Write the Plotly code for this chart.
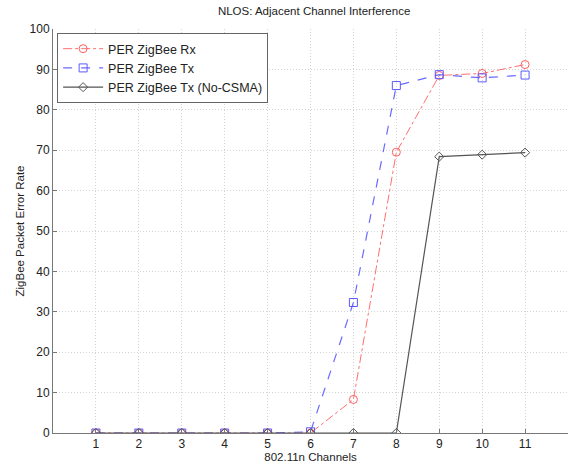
import plotly.graph_objects as go

channels = [1, 2, 3, 4, 5, 6, 7, 8, 9, 10, 11]
per_rx = [0, 0, 0, 0, 0, 0, 8.3, 69.5, 88.5, 89.0, 91.2]
per_tx = [0, 0, 0, 0, 0, 0.3, 32.3, 86.0, 88.7, 87.9, 88.6]
per_tx_nocsma = [0, 0, 0, 0, 0, 0, 0, 0, 68.4, 68.9, 69.4]
tick_vals_x = channels
tick_vals_y = [0, 10, 20, 30, 40, 50, 60, 70, 80, 90, 100]

font = "Liberation Sans, Arial, sans-serif"

fig = go.Figure()
fig.add_trace(go.Scatter(
    x=channels, y=per_rx, name="PER ZigBee Rx", mode="lines+markers",
    line=dict(color="#ff7070", width=1, dash="dashdot"),
    marker=dict(symbol="circle-open", size=8, color="#ff6060", line=dict(width=1)),
))
fig.add_trace(go.Scatter(
    x=channels, y=per_tx, name="PER ZigBee Tx", mode="lines+markers",
    line=dict(color="#6a6aff", width=1.2, dash="dash"),
    marker=dict(symbol="square-open", size=8, color="#5a5aff", line=dict(width=1)),
))
fig.add_trace(go.Scatter(
    x=channels, y=per_tx_nocsma, name="PER ZigBee Tx (No-CSMA)", mode="lines+markers",
    line=dict(color="#555555", width=1.2),
    marker=dict(symbol="diamond-open", size=7, color="#555555", line=dict(width=1)),
))

fig.update_layout(
    width=568, height=466,
    margin=dict(l=53, r=0, t=29, b=33),
    paper_bgcolor="white", plot_bgcolor="white",
    font=dict(family=font, size=12, color="#222222"),
    title=dict(text="NLOS: Adjacent Channel Interference", x=0.553, xanchor="center",
               y=0.985, yanchor="top", font=dict(size=11.5, family=font)),
    showlegend=True,
    legend=dict(x=0.008, y=0.99, xanchor="left", yanchor="top",
                bordercolor="#666666", borderwidth=1, bgcolor="white",
                font=dict(size=12.5, family=font), tracegroupgap=0,
                itemwidth=40),
    xaxis=dict(range=[0, 12], tickvals=tick_vals_x, showgrid=True,
               gridcolor="#d4d4d4", griddash="1px,2px", gridwidth=1,
               showline=True, linecolor="#777777", linewidth=1,
               ticks="inside", ticklen=4, tickcolor="#777777",
               tickfont=dict(size=12),
               zeroline=False, title=dict(text="802.11n Channels", standoff=2,
                                         font=dict(size=11.5))),
    yaxis=dict(range=[0, 100], tickvals=tick_vals_y, showgrid=True,
               gridcolor="#d4d4d4", griddash="1px,2px", gridwidth=1,
               showline=True, linecolor="#777777", linewidth=1,
               ticks="inside", ticklen=4, tickcolor="#777777",
               tickfont=dict(size=12),
               zeroline=False, title=dict(text="ZigBee Packet Error Rate", standoff=2,
                                         font=dict(size=11.5))),
)

fig.write_html("out.html")
